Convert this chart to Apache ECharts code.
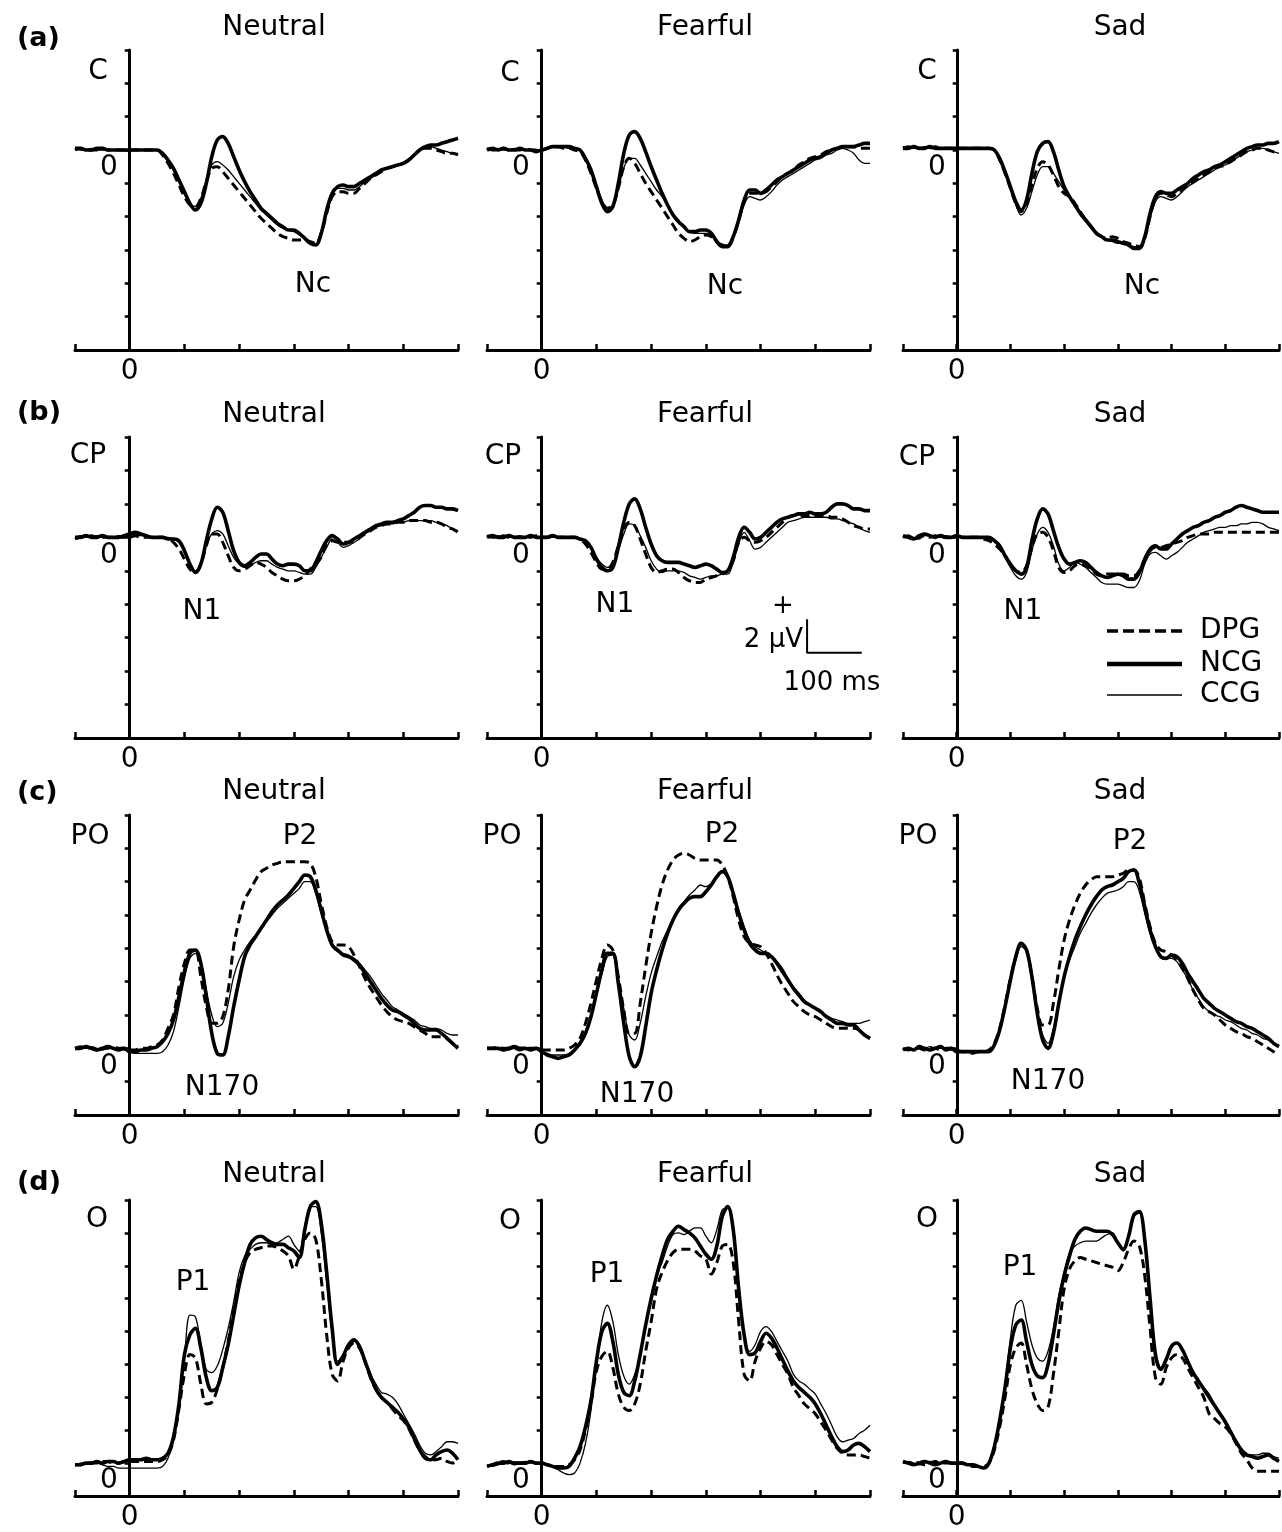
<!DOCTYPE html>
<html>
<head>
<meta charset="utf-8">
<title>ERP waveforms</title>
<script src="https://cdn.jsdelivr.net/npm/echarts@6/dist/echarts.min.js"></script>
<style>
  html, body { margin: 0; padding: 0; background: #fff; }
  #chart { width: 1282px; height: 1532px; }
</style>
</head>
<body>
<div id="chart"></div>
<script>
// time axis in ms, one sample every 10 ms
const time = [-100,-90,-80,-70,-60,-50,-40,-30,-20,-10,
  0,10,20,30,40,50,60,70,80,90,
  100,110,120,130,140,150,160,170,180,190,
  200,210,220,230,240,250,260,270,280,290,
  300,310,320,330,340,350,360,370,380,390,
  400,410,420,430,440,450,460,470,480,490,
  500,510,520,530,540,550,560,570,580,590,
  600]

const electrodes = ['C', 'CP', 'PO', 'O']
const emotions = ['Neutral', 'Fearful', 'Sad']
const groups = ['DPG', 'NCG', 'CCG']
const rowTags = ['(a)', '(b)', '(c)', '(d)']
const yMin = [-12, -12, -4, -2] // µV
const yMax = [6, 6, 14, 16]

// ---- (a) C ----
const cNeutralNCG = [0.1,0.1,0,0,0.1,0.1,0,0,0,0,
  0,0,0,0,0,0,-0.2,-0.6,-1.1,-1.8,
  -2.5,-3.2,-3.6,-3.2,-2.0,-0.4,0.6,0.8,0.4,-0.4,
  -1.2,-1.9,-2.5,-3.0,-3.5,-3.8,-4.1,-4.4,-4.6,-4.8,
  -4.8,-5.0,-5.3,-5.6,-5.7,-5.0,-3.6,-2.6,-2.2,-2.1,
  -2.2,-2.2,-2.0,-1.8,-1.6,-1.4,-1.2,-1.1,-1.0,-0.9,
  -0.8,-0.6,-0.3,0,0.2,0.3,0.3,0.4,0.5,0.6,
  0.7]
const cNeutralDPG = [0,0.1,0,0,0,0.1,0,0,0,0,
  0,0,0,0,0,0,-0.3,-0.8,-1.4,-2.1,
  -2.8,-3.3,-3.4,-2.9,-1.9,-1.1,-1.0,-1.3,-1.7,-2.1,
  -2.5,-2.9,-3.3,-3.7,-4.1,-4.4,-4.7,-5.0,-5.2,-5.3,
  -5.4,-5.4,-5.4,-5.5,-5.6,-5.0,-3.8,-2.8,-2.5,-2.5,
  -2.6,-2.6,-2.3,-2.0,-1.7,-1.5,-1.3,-1.1,-1.0,-0.9,
  -0.8,-0.6,-0.3,0,0.1,0.1,0,-0.1,-0.2,-0.2,
  -0.3]
const cNeutralCCG = [0.1,0,0,0.1,0,0,0,0,0,0,
  0,0,0,0,0,0,-0.2,-0.6,-1.2,-1.9,
  -2.6,-3.2,-3.4,-2.9,-1.8,-0.9,-0.7,-0.9,-1.2,-1.6,
  -2.0,-2.4,-2.8,-3.2,-3.6,-3.9,-4.2,-4.5,-4.7,-4.8,
  -4.9,-5.1,-5.3,-5.5,-5.7,-5.1,-3.8,-2.8,-2.3,-2.3,
  -2.4,-2.4,-2.2,-1.9,-1.7,-1.5,-1.3,-1.1,-1.0,-0.9,
  -0.8,-0.6,-0.3,0,0.2,0.2,0.1,0,-0.1,-0.2,
  -0.2]
const cFearfulNCG = [0,0.1,0,0.1,0,0,0.1,0,0,-0.1,
  0,0.1,0.2,0.2,0.2,0.2,0.1,0,-0.5,-1.2,
  -2.2,-3.2,-3.7,-3.4,-2.0,-0.2,0.9,1.1,0.7,-0.1,
  -1.0,-1.8,-2.6,-3.3,-3.9,-4.3,-4.6,-4.9,-4.9,-4.8,
  -4.8,-5.0,-5.5,-5.8,-5.8,-5.2,-4.2,-3.0,-2.4,-2.4,
  -2.6,-2.4,-2.1,-1.8,-1.6,-1.4,-1.2,-1.0,-0.8,-0.6,
  -0.5,-0.4,-0.2,0,0.1,0.2,0.2,0.2,0.3,0.4,
  0.4]
const cFearfulCCG = [0,0,0.1,0,0,0.1,0,0,0,0,
  0,0.1,0.2,0.2,0.2,0.1,0.1,0,-0.5,-1.2,
  -2.1,-3.0,-3.5,-3.3,-2.3,-1.1,-0.5,-0.5,-0.9,-1.4,
  -1.9,-2.4,-2.8,-3.3,-3.8,-4.2,-4.6,-4.9,-5.0,-5.0,
  -5.0,-5.1,-5.4,-5.7,-5.7,-5.2,-4.3,-3.3,-2.8,-2.9,
  -3.0,-2.8,-2.5,-2.1,-1.8,-1.6,-1.4,-1.2,-1.0,-0.8,
  -0.6,-0.5,-0.3,-0.2,0,0.1,0,-0.2,-0.6,-0.8,
  -0.8]
const cFearfulDPG = [0.1,0,0,0.1,0,0,0,0.1,0,0,
  0,0.1,0.2,0.2,0.1,0.1,0,-0.1,-0.6,-1.4,
  -2.3,-3.1,-3.5,-3.3,-2.3,-1.0,-0.5,-0.8,-1.4,-2.0,
  -2.5,-3.0,-3.5,-4.0,-4.5,-5.0,-5.3,-5.5,-5.4,-5.2,
  -5.1,-5.2,-5.5,-5.7,-5.7,-5.2,-4.2,-3.1,-2.6,-2.6,
  -2.6,-2.5,-2.2,-1.9,-1.6,-1.4,-1.2,-0.9,-0.7,-0.5,
  -0.4,-0.3,-0.1,0,0.1,0.2,0.2,0.2,0.1,0.1,
  0.1]
const cSadNCG = [0.1,0.1,0.2,0.1,0.1,0.2,0.1,0.1,0.1,0.1,
  0.1,0.1,0.1,0.1,0.1,0.1,0.1,0,-0.5,-1.3,
  -2.2,-3.1,-3.6,-3.0,-1.4,-0.1,0.4,0.5,-0.1,-1.2,
  -2.2,-2.8,-3.3,-3.8,-4.2,-4.6,-5.0,-5.2,-5.4,-5.4,
  -5.5,-5.6,-5.7,-5.9,-5.9,-5.2,-3.8,-2.8,-2.5,-2.6,
  -2.6,-2.4,-2.2,-2.0,-1.7,-1.5,-1.3,-1.2,-1.0,-0.9,
  -0.7,-0.5,-0.3,-0.1,0.1,0.2,0.3,0.3,0.4,0.4,
  0.5]
const cSadCCG = [0.2,0.1,0.1,0.1,0.2,0.1,0.1,0.1,0.1,0.1,
  0.1,0.1,0.1,0.1,0.1,0.1,0.1,0,-0.5,-1.3,
  -2.3,-3.3,-3.9,-3.5,-2.5,-1.5,-1.0,-1.0,-1.4,-1.9,
  -2.4,-2.8,-3.2,-3.7,-4.1,-4.5,-4.9,-5.2,-5.4,-5.5,
  -5.6,-5.6,-5.7,-5.8,-5.8,-5.3,-4.1,-3.1,-2.8,-2.9,
  -3.0,-2.8,-2.5,-2.2,-2.0,-1.8,-1.6,-1.4,-1.2,-1.0,
  -0.9,-0.7,-0.5,-0.3,-0.1,0,0.1,0.1,0,-0.1,
  -0.2]
const cSadDPG = [0.1,0.2,0.1,0.1,0.1,0.1,0.2,0.1,0.1,0.1,
  0.1,0.1,0.1,0.1,0.1,0.1,0.1,0,-0.6,-1.4,
  -2.3,-3.2,-3.7,-3.2,-2.1,-1.1,-0.7,-0.9,-1.5,-2.2,
  -2.6,-2.8,-3.2,-3.7,-4.2,-4.6,-5.0,-5.2,-5.3,-5.2,
  -5.3,-5.5,-5.6,-5.7,-5.8,-5.3,-4.0,-2.9,-2.6,-2.7,
  -2.8,-2.6,-2.4,-2.1,-1.9,-1.7,-1.5,-1.3,-1.1,-1.0,
  -0.9,-0.7,-0.5,-0.3,-0.1,0,0.1,0.1,0,-0.1,
  -0.1]

// ---- (b) CP ----
const cpNeutralNCG = [0,0,0.1,0,0,0.1,0,0,0,0.1,
  0.2,0.3,0.2,0.1,0,0,0,-0.1,-0.1,-0.2,
  -0.8,-1.6,-2.1,-1.6,-0.2,1.1,1.8,1.5,0.4,-0.8,
  -1.5,-1.7,-1.5,-1.2,-1.0,-1.0,-1.3,-1.6,-1.7,-1.6,
  -1.6,-1.7,-2.0,-2.0,-1.5,-0.8,-0.2,0.1,-0.1,-0.4,
  -0.3,-0.1,0.1,0.3,0.5,0.7,0.8,0.9,0.9,1.0,
  1.1,1.3,1.5,1.8,1.9,1.9,1.8,1.8,1.7,1.7,
  1.6]
const cpNeutralCCG = [0,0.1,0,0,0.1,0,0,0,0.1,0,
  0.1,0.2,0.1,0.1,0,0,0,0,-0.1,-0.3,
  -0.9,-1.6,-2.0,-1.5,-0.4,0.2,0.4,0.2,-0.5,-1.2,
  -1.6,-1.8,-1.7,-1.5,-1.4,-1.4,-1.6,-1.8,-1.9,-2.0,
  -2.0,-2.1,-2.2,-2.2,-1.8,-1.2,-0.6,-0.1,-0.3,-0.6,
  -0.5,-0.3,-0.1,0.2,0.4,0.6,0.7,0.8,0.8,0.9,
  0.9,1.0,1.0,1.0,1.0,1.0,0.9,0.8,0.7,0.5,
  0.4]
const cpNeutralDPG = [-0.1,0,0,0.1,0,0,0,0,0,0,
  0,0.1,0,0,0,0,0,-0.1,-0.3,-0.7,
  -1.3,-1.9,-2.1,-1.6,-0.5,0.2,0.2,-0.3,-1.1,-1.8,
  -2.0,-1.9,-1.7,-1.5,-1.6,-1.8,-2.1,-2.3,-2.5,-2.6,
  -2.6,-2.5,-2.3,-1.9,-1.6,-1.2,-0.4,-0.2,-0.3,-0.3,
  -0.3,-0.2,0,0.2,0.4,0.6,0.7,0.8,0.8,0.9,
  0.9,1.0,1.0,1.0,1.0,0.9,0.9,0.8,0.6,0.5,
  0.3]
const cpFearfulNCG = [0,0.1,0,0,0.1,0,0,0,0.1,0,
  0,0,0.1,0,0,0,0,-0.1,-0.2,-0.6,
  -1.3,-1.8,-2.0,-1.8,-0.6,0.9,2.0,2.3,1.7,0.6,
  -0.4,-1.1,-1.4,-1.5,-1.5,-1.5,-1.6,-1.7,-1.8,-1.7,
  -1.6,-1.7,-1.9,-2.1,-2.0,-1.2,0,0.6,0.3,-0.1,
  0,0.3,0.6,0.9,1.1,1.2,1.3,1.4,1.4,1.5,
  1.4,1.4,1.5,1.8,2.0,2.0,1.9,1.7,1.7,1.6,
  1.6]
const cpFearfulCCG = [0,0,0.1,0,0,0,0.1,0,0,0,
  0,0,0,0,0,0,0,-0.1,-0.2,-0.6,
  -1.2,-1.6,-1.8,-1.6,-0.8,0.2,0.8,0.7,0.1,-0.6,
  -1.4,-1.9,-2.1,-2.0,-2.0,-2.0,-2.1,-2.3,-2.4,-2.5,
  -2.4,-2.3,-2.3,-2.2,-2.2,-1.5,-0.4,0.3,-0.2,-0.7,
  -0.6,-0.3,0,0.3,0.6,0.9,1.0,1.1,1.2,1.2,
  1.2,1.2,1.2,1.1,1.1,1.0,0.9,0.8,0.6,0.4,
  0.3]
const cpFearfulDPG = [0.1,0,0,0.1,0,0,0,0,0,0.1,
  0,0,0,0,0,0,0,-0.1,-0.4,-0.9,
  -1.5,-1.9,-1.9,-1.5,-0.5,0.5,0.9,0.7,-0.1,-1.0,
  -1.8,-2.1,-2.0,-1.9,-1.9,-2.1,-2.4,-2.6,-2.7,-2.7,
  -2.5,-2.4,-2.3,-2.2,-2.0,-1.4,-0.3,0,-0.2,-0.3,
  -0.2,0,0.3,0.6,0.9,1.2,1.3,1.3,1.3,1.3,
  1.3,1.3,1.3,1.2,1.2,1.1,0.9,0.7,0.6,0.5,
  0.5]
const cpSadNCG = [0.1,0,-0.1,0.1,0.2,0.1,0,0.1,0,0,
  0.1,0,0,0,0,0,0,-0.2,-0.5,-1.1,
  -1.6,-2.0,-2.2,-1.8,-0.2,1.1,1.7,1.4,0.4,-0.6,
  -1.3,-1.6,-1.5,-1.4,-1.5,-1.8,-2.1,-2.3,-2.4,-2.3,
  -2.2,-2.3,-2.5,-2.5,-2.1,-1.3,-0.7,-0.5,-0.7,-0.7,
  -0.4,-0.1,0.2,0.4,0.6,0.7,0.9,1.0,1.2,1.3,
  1.5,1.6,1.8,1.9,1.8,1.7,1.6,1.5,1.5,1.5,
  1.5]
const cpSadCCG = [0,0.1,0,-0.1,0.1,0.1,0,0,0.1,0,
  0.1,0,0,0,0,0,0,-0.2,-0.6,-1.2,
  -1.8,-2.3,-2.5,-2.1,-0.8,0.2,0.6,0.3,-0.5,-1.6,
  -2.0,-1.8,-1.5,-1.6,-1.8,-2.1,-2.4,-2.7,-2.8,-2.8,
  -2.8,-2.9,-3.0,-3.0,-2.6,-1.6,-1.0,-0.9,-1.1,-1.3,
  -1.1,-0.9,-0.6,-0.3,-0.1,0.1,0.3,0.4,0.5,0.6,
  0.6,0.7,0.7,0.8,0.8,0.9,0.9,0.8,0.6,0.5,
  0.4]
const cpSadDPG = [0,0.1,-0.1,0,0.1,0,0.1,0,0,0,
  0.1,0,0,0,0,-0.1,-0.2,-0.4,-0.7,-1.1,
  -1.6,-2.0,-2.1,-1.7,-0.6,0.2,0.3,0,-0.8,-1.8,
  -2.1,-2.0,-1.7,-1.6,-1.7,-1.9,-2.2,-2.3,-2.2,-2.2,
  -2.2,-2.2,-2.3,-2.3,-2.0,-1.4,-0.8,-0.6,-0.6,-0.5,
  -0.4,-0.3,-0.2,0,0.1,0.2,0.2,0.2,0.3,0.3,
  0.3,0.3,0.3,0.3,0.3,0.3,0.3,0.3,0.3,0.3,
  0.3]

// ---- (c) PO ----
const poNeutralNCG = [0,0,0.1,0,-0.1,0,0.1,0,-0.1,0,
  -0.2,-0.2,-0.1,-0.1,0,0.1,0.4,0.9,1.7,3.1,
  4.6,5.7,5.9,5.1,3.1,0.9,-0.3,-0.4,0.7,2.5,
  4.1,5.5,6.2,6.7,7.2,7.7,8.2,8.6,8.9,9.2,
  9.6,10.0,10.4,10.3,9.5,8.3,7.1,6.2,5.9,5.6,
  5.5,5.3,5.0,4.5,4.0,3.5,3.0,2.6,2.3,2.2,
  2.0,1.8,1.5,1.2,1.1,1.1,1.1,0.9,0.6,0.3,
  0]
const poNeutralDPG = [0,0.1,0,0,-0.1,0,0,0.1,0,0,
  -0.1,-0.1,0,0,0.1,0.2,0.5,1.2,2.0,3.7,
  5.1,5.9,5.9,4.3,2.5,1.5,1.5,1.9,3.5,6.1,
  7.7,8.9,9.5,10.1,10.6,10.8,11.0,11.1,11.2,11.2,
  11.2,11.2,11.2,11.1,10.3,8.7,7.3,6.4,6.2,6.2,
  6.1,5.6,4.9,4.2,3.6,3.1,2.6,2.2,1.9,1.7,
  1.6,1.5,1.3,1.1,0.9,0.7,0.7,0.7,0.6,0.3,
  0.1]
const poNeutralCCG = [0,0,0,0.1,0,-0.1,0,0,0,-0.1,
  -0.2,-0.3,-0.3,-0.3,-0.3,-0.3,-0.2,0.2,1.0,2.5,
  4.2,5.4,5.7,5.2,3.5,2.0,1.3,1.5,2.7,4.3,
  5.3,5.9,6.4,6.8,7.2,7.6,8.0,8.4,8.7,9.0,
  9.3,9.6,10.0,10.0,9.3,8.1,7.0,6.1,5.8,5.7,
  5.6,5.4,5.1,4.7,4.3,3.8,3.3,2.9,2.5,2.3,
  2.1,1.9,1.7,1.4,1.3,1.2,1.2,1.1,0.9,0.8,
  0.8]
const poFearfulNCG = [0,0,0,-0.1,0,0.1,0,0,-0.1,0,
  -0.2,-0.4,-0.5,-0.6,-0.5,-0.4,-0.1,0.3,0.9,1.9,
  3.3,4.7,5.7,5.7,3.9,1.5,-0.5,-1.1,-0.5,1.3,
  3.3,4.7,5.9,6.9,7.7,8.3,8.7,9.0,9.1,9.1,
  9.4,9.8,10.3,10.6,10.3,9.3,8.1,7.1,6.3,5.9,
  5.7,5.7,5.5,5.1,4.6,4.1,3.6,3.2,2.8,2.6,
  2.4,2.2,1.9,1.7,1.5,1.5,1.4,1.4,1.1,0.8,
  0.6]
const poFearfulDPG = [0,0,0.1,0,0,0,-0.1,0,0,0,
  -0.1,-0.1,-0.1,-0.1,-0.1,0,0.2,0.6,1.5,2.7,
  4.1,5.4,6.2,5.9,4.3,2.3,0.9,0.9,2.7,4.9,
  6.9,8.5,9.8,10.7,11.3,11.6,11.7,11.6,11.4,11.3,
  11.3,11.3,11.3,11.0,10.3,9.1,7.7,6.7,6.3,6.2,
  6.1,5.7,5.1,4.4,3.8,3.3,2.8,2.5,2.2,2.0,
  1.9,1.7,1.5,1.3,1.2,1.2,1.2,1.2,1.1,0.8,
  0.6]
const poFearfulCCG = [0,0,0,0,-0.1,0,0,0,0,0,
  -0.2,-0.3,-0.4,-0.4,-0.4,-0.3,-0.1,0.2,0.8,1.8,
  3.2,4.5,5.5,5.6,4.2,2.4,0.8,0.5,1.5,3.1,
  4.5,5.5,6.4,7.1,7.8,8.4,8.8,9.2,9.5,9.8,
  9.7,9.9,10.3,10.6,10.3,9.4,8.3,7.3,6.5,6.1,
  5.9,5.7,5.5,5.2,4.8,4.2,3.7,3.3,2.9,2.6,
  2.4,2.2,2.0,1.8,1.7,1.6,1.5,1.5,1.5,1.6,
  1.7]
const poSadNCG = [-0.1,0,-0.1,0.1,0,-0.1,0,0.1,-0.1,0,
  -0.2,-0.2,-0.2,-0.2,-0.2,-0.2,-0.2,0.2,1.1,2.5,
  4.1,5.5,6.3,5.9,4.3,2.1,0.5,0,0.9,2.7,
  4.3,5.5,6.5,7.3,8.0,8.6,9.1,9.5,9.7,9.8,
  10.0,10.2,10.6,10.7,9.9,8.5,7.1,6.1,5.5,5.4,
  5.6,5.5,5.1,4.5,4.0,3.5,3.0,2.7,2.4,2.2,
  2.0,1.8,1.6,1.5,1.3,1.2,1.0,0.8,0.6,0.3,
  0.1]
const poSadDPG = [0,-0.1,0,0,-0.1,0,0,-0.1,0,0,
  -0.1,-0.2,-0.2,-0.3,-0.2,-0.2,-0.1,0.3,1.2,2.6,
  4.2,5.5,6.3,5.9,4.3,2.4,1.4,1.4,2.7,4.7,
  6.5,7.7,8.6,9.3,9.8,10.1,10.3,10.3,10.3,10.3,
  10.4,10.5,10.7,10.7,10.2,8.7,7.3,6.3,5.9,5.8,
  5.6,5.3,4.8,4.2,3.5,2.9,2.4,2.2,2.0,1.7,
  1.4,1.2,1.0,0.9,0.7,0.6,0.4,0.2,0,-0.2,
  -0.4]
const poSadCCG = [0,0,-0.1,0,0,0.1,0,0,0,-0.1,
  -0.1,-0.2,-0.2,-0.2,-0.2,-0.2,-0.2,0.2,1.0,2.4,
  4.0,5.3,6.1,5.8,4.3,2.3,0.8,0.3,1.2,2.7,
  4.3,5.3,6.1,6.9,7.5,8.1,8.6,9.0,9.3,9.4,
  9.5,9.7,10.0,10.0,9.4,8.1,6.9,6.0,5.5,5.4,
  5.4,5.2,4.7,4.2,3.5,3.0,2.5,2.2,2.0,1.9,
  1.7,1.6,1.4,1.2,1.1,0.9,0.8,0.6,0.5,0.3,
  0.2]

// ---- (d) O ----
const oNeutralNCG = [-0.1,-0.1,0,0,0.1,0,0.1,0.1,0,0.1,
  0.2,0.2,0.2,0.3,0.2,0.2,0.3,0.6,1.6,3.6,
  6.6,7.8,8.2,7.0,5.2,4.4,4.6,5.8,7.2,9.0,
  10.8,12.2,13.3,13.7,13.8,13.6,13.4,13.3,13.3,13.1,
  12.9,12.5,14.2,15.6,15.9,14.6,11.6,8.2,6.0,6.5,
  7.2,7.5,7.1,6.2,5.3,4.5,4.0,3.7,3.4,3.1,
  2.7,2.2,1.5,0.8,0.3,0.2,0.5,0.7,0.8,0.6,
  0.2]
const oNeutralCCG = [-0.1,0,0,0,0,-0.1,-0.2,-0.2,-0.3,-0.3,
  -0.3,-0.3,-0.3,-0.3,-0.3,-0.3,-0.2,0.3,1.4,3.6,
  6.4,9.0,8.9,7.2,5.7,5.5,5.9,6.9,8.2,9.8,
  11.6,12.6,13.0,13.3,13.4,13.4,13.3,13.4,13.6,13.8,
  13.3,12.9,14.4,15.6,15.6,14.0,11.0,7.8,6.2,6.6,
  7.2,7.4,7.0,6.2,5.4,4.8,4.3,4.2,4.0,3.6,
  3.0,2.4,1.8,1.1,0.6,0.5,0.7,1.0,1.3,1.3,
  1.2]
const oNeutralDPG = [-0.1,-0.1,0,0,0,0.1,0.1,0,0,0.1,
  0.1,0.1,0.1,0.1,0.1,0.1,0.2,0.5,1.4,3.3,
  5.4,6.6,6.4,4.8,3.6,3.7,4.5,5.8,7.4,9.3,
  11.0,12.2,12.8,13.0,13.1,13.2,13.2,13.1,12.9,12.6,
  11.8,12.6,13.6,14.0,13.6,11.2,7.8,5.4,5.0,6.2,
  7.0,7.3,7.0,6.2,5.2,4.5,4.0,3.7,3.3,2.9,
  2.6,2.1,1.4,0.8,0.4,0.2,0.2,0.3,0.1,0,
  0.2]
const oFearfulNCG = [-0.2,-0.1,0,0,0.1,0,0,0,0.1,0,
  0,-0.1,-0.2,-0.3,-0.3,-0.2,0.3,1.0,2.2,3.8,
  6.2,8.0,8.5,7.4,5.4,4.3,4.1,5.0,6.6,8.4,
  10.0,11.4,12.6,13.6,14.1,14.4,14.2,14.0,13.7,13.2,
  12.7,12.4,13.2,15.0,15.6,14.2,10.6,7.8,6.6,6.7,
  7.4,7.9,7.6,7.0,6.3,5.6,5.0,4.6,4.3,4.0,
  3.6,3.0,2.3,1.6,1.0,0.7,0.8,1.1,1.2,1.0,
  0.7]
const oFearfulCCG = [-0.1,-0.2,-0.1,0,0,-0.1,0,0.1,0,0,
  0,-0.1,-0.2,-0.4,-0.6,-0.7,-0.6,0,1.2,3.2,
  6.0,8.6,9.6,8.6,6.6,5.3,4.8,5.4,6.6,8.4,
  9.8,11.4,12.2,13.2,13.9,14.0,13.9,14.1,14.3,14.3,
  13.8,13.4,14.2,15.4,15.5,14.0,10.6,7.8,6.8,7.2,
  8.0,8.3,8.0,7.4,6.8,6.2,5.4,5.0,4.8,4.5,
  4.2,3.6,3.0,2.3,1.6,1.3,1.4,1.5,1.8,2.0,
  2.3]
const oFearfulDPG = [-0.2,-0.1,0,0.1,0,0,0,0,0.1,0,
  0,-0.1,-0.2,-0.2,-0.2,-0.1,0.2,0.8,2.0,3.6,
  5.6,6.5,6.8,5.8,4.2,3.4,3.2,3.6,4.8,6.8,
  8.6,10.6,11.6,12.3,12.8,13.0,13.0,13.0,12.9,12.6,
  12.4,11.5,12.2,13.2,13.3,12.2,8.6,5.4,5.0,6.2,
  7.0,7.4,7.2,6.6,6.0,5.4,4.6,4.1,3.6,3.3,
  3.0,2.5,2.0,1.4,0.9,0.6,0.5,0.5,0.5,0.4,
  0.3]
const oSadNCG = [0.1,0,-0.1,0,0.1,0,-0.1,0,0.1,0,
  0,0,-0.1,-0.1,-0.2,-0.3,0,1.0,2.6,4.6,
  7.0,8.4,8.7,7.4,6.0,5.3,5.2,6.0,7.8,9.8,
  11.4,12.6,13.6,14.1,14.3,14.2,14.1,14.1,14.1,13.9,
  13.4,13.0,13.8,15.1,15.3,13.6,10.0,6.6,5.7,6.3,
  7.1,7.3,6.9,6.2,5.5,5.0,4.5,4.0,3.5,3.0,
  2.5,1.9,1.3,0.8,0.5,0.4,0.3,0.4,0.5,0.3,
  0.1]
const oSadCCG = [0,0.1,0,-0.1,0,0.1,0,0,0,0,
  0,0,-0.1,-0.1,-0.2,-0.3,0,1.0,2.6,4.8,
  7.6,9.6,9.9,8.6,7.2,6.4,6.2,6.8,8.2,10.2,
  11.6,12.8,13.2,13.4,13.5,13.5,13.5,13.7,13.9,14.0,
  13.4,12.9,13.8,15.0,15.2,13.5,10.0,6.6,5.8,6.4,
  7.2,7.3,6.8,6.2,5.6,5.0,4.6,4.2,3.6,3.1,
  2.6,2.0,1.4,0.9,0.5,0.5,0.5,0.6,0.6,0.4,
  0.3]
const oSadDPG = [0.1,0,0.1,0,-0.1,0,0.1,0,0,0,
  0,0,-0.1,-0.2,-0.2,-0.2,0,0.8,2.2,4.0,
  6.0,7.0,7.3,6.0,4.5,3.6,3.2,3.4,5.4,8.0,
  10.6,11.8,12.3,12.5,12.4,12.3,12.2,12.1,12.0,11.9,
  11.7,12.2,13.0,13.5,13.2,11.4,8.2,5.2,4.8,5.8,
  6.4,6.6,6.4,5.8,5.2,4.6,4.0,3.0,2.7,2.4,
  2.2,1.8,1.2,0.6,0.2,-0.3,-0.5,-0.5,-0.5,-0.5,
  -0.5]

// calibration bar drawn in the (b) Fearful panel: 2 µV by 100 ms
const scaleBarTime = [485, 485, 585]
const scaleBarVolt = [-4.9, -6.9, -6.9]

// [row][col] -> [DPG, NCG, CCG]
const waves = [
  [[cNeutralDPG, cNeutralNCG, cNeutralCCG], [cFearfulDPG, cFearfulNCG, cFearfulCCG], [cSadDPG, cSadNCG, cSadCCG]],
  [[cpNeutralDPG, cpNeutralNCG, cpNeutralCCG], [cpFearfulDPG, cpFearfulNCG, cpFearfulCCG], [cpSadDPG, cpSadNCG, cpSadCCG]],
  [[poNeutralDPG, poNeutralNCG, poNeutralCCG], [poFearfulDPG, poFearfulNCG, poFearfulCCG], [poSadDPG, poSadNCG, poSadCCG]],
  [[oNeutralDPG, oNeutralNCG, oNeutralCCG], [oFearfulDPG, oFearfulNCG, oFearfulCCG], [oSadDPG, oSadNCG, oSadCCG]]
]

// layout (pixels)
const FONT = '"DejaVu Sans", sans-serif'
const gridLeft = [75, 487, 903]
const gridTop = [50, 437, 815, 1200]
const gridHeight = [300, 301, 300, 298]
const gridWidth = 383
const zeroShift = gridWidth / 7 // the voltage axis sits at t = 0
const titleY = [28, 415, 792, 1175]
const titleX = [274, 705, 1120]
const tagY = [39, 413, 793, 1183]
const elecPos = [
  [[98, 72], [510, 74], [927, 72]],
  [[88, 456], [503, 457], [917, 458]],
  [[90, 837], [502, 837], [918, 837]],
  [[97, 1220], [510, 1222], [927, 1220]]
]
const peakLabels = [
  { text: 'Nc', pos: [[313, 285], [725, 287], [1142, 287]] },
  { text: 'N1', pos: [[202, 612], [615, 605], [1023, 612]] },
  { text: 'N170', pos: [[222, 1088], [637, 1095], [1048, 1082]] },
  { text: 'P2', pos: [[300, 837], [722, 835], [1130, 842]] },
  { text: 'P1', pos: [[193, 1283], [607, 1275], [1020, 1268]] }
]

const lineStyles = {
  DPG: { color: '#000', width: 3, type: [9, 5] },
  NCG: { color: '#000', width: 3.6, type: 'solid' },
  CCG: { color: '#000', width: 1.3, type: 'solid' }
}
const lineZ = { DPG: 3, NCG: 2, CCG: 4 }

const text = (t, x, y, size, align, weight) => ({
  type: 'text',
  x: x,
  y: y,
  silent: true,
  style: {
    text: t,
    fill: '#000',
    font: (weight || 'normal') + ' ' + size + 'px ' + FONT,
    textAlign: align || 'center',
    textVerticalAlign: 'middle',
    align: align || 'center',
    verticalAlign: 'middle'
  }
})

const grids = []
const xAxes = []
const yAxes = []
const series = []
const graphics = []

electrodes.forEach((el, r) => {
  graphics.push(text(rowTags[r], 17, tagY[r], 27, 'left', 'bold'))
  emotions.forEach((emo, c) => {
    const gi = r * 3 + c
    grids.push({ left: gridLeft[c], top: gridTop[r], width: gridWidth, height: gridHeight[r] })
    xAxes.push({
      type: 'value',
      gridIndex: gi,
      min: -100,
      max: 600,
      interval: 100,
      axisLine: { onZero: false, lineStyle: { color: '#000', width: 3 } },
      axisTick: { inside: true, length: 6, lineStyle: { color: '#000', width: 2.5 } },
      axisLabel: {
        formatter: v => (v === 0 ? '0' : ''),
        color: '#000',
        fontSize: 28,
        fontFamily: FONT,
        margin: 8
      },
      splitLine: { show: false }
    })
    yAxes.push({
      type: 'value',
      gridIndex: gi,
      min: yMin[r],
      max: yMax[r],
      interval: 2,
      offset: -zeroShift,
      axisLine: { onZero: false, lineStyle: { color: '#000', width: 3 } },
      axisTick: { length: 5, lineStyle: { color: '#000', width: 2.5 } },
      axisLabel: {
        formatter: v => (v === 0 ? '0' : ''),
        color: '#000',
        fontSize: 28,
        fontFamily: FONT,
        margin: 12,
        verticalAlign: 'top',
        padding: [4, 0, 0, 0]
      },
      splitLine: { show: false }
    })
    waves[r][c].forEach((vals, k) => {
      const g = groups[k]
      series.push({
        type: 'line',
        name: g,
        xAxisIndex: gi,
        yAxisIndex: gi,
        data: time.map((t, i) => [t, vals[i]]),
        symbol: 'none',
        smooth: 0.35,
        lineStyle: lineStyles[g],
        z: lineZ[g],
        silent: true
      })
    })
    graphics.push(text(emo, titleX[c], titleY[r], 28))
    graphics.push(text(el, elecPos[r][c][0], elecPos[r][c][1], 28))
  })
})

// component labels
peakLabels.forEach(p => {
  p.pos.forEach(xy => graphics.push(text(p.text, xy[0], xy[1], 28)))
})

// calibration bar in (b) Fearful
series.push({
  type: 'line',
  name: 'scale',
  xAxisIndex: 4,
  yAxisIndex: 4,
  data: scaleBarTime.map((t, i) => [t, scaleBarVolt[i]]),
  symbol: 'none',
  lineStyle: { color: '#000', width: 2 },
  silent: true
})
graphics.push(text('+', 783, 606, 26))
graphics.push(text('2 µV', 803, 640, 26, 'right'))
graphics.push(text('100 ms', 832, 683, 26))

// legend (drawn by hand so the dash and weights match)
const legendY = [631, 664, 695]
groups.forEach((g, k) => {
  const ls = lineStyles[g]
  graphics.push({
    type: 'line',
    silent: true,
    shape: { x1: 1107, y1: legendY[k], x2: 1182, y2: legendY[k] },
    style: { stroke: '#000', lineWidth: g === 'NCG' ? 4.5 : (g === 'DPG' ? 3.5 : 1.5), lineDash: Array.isArray(ls.type) ? [11, 5] : null }
  })
  graphics.push(text(g, 1200, legendY[k], 28, 'left'))
})

const chart = echarts.init(document.getElementById('chart'), null, { renderer: 'canvas' })
chart.setOption({
  backgroundColor: '#fff',
  animation: false,
  grid: grids,
  xAxis: xAxes,
  yAxis: yAxes,
  series: series,
  graphic: { elements: graphics }
})
</script>
</body>
</html>
